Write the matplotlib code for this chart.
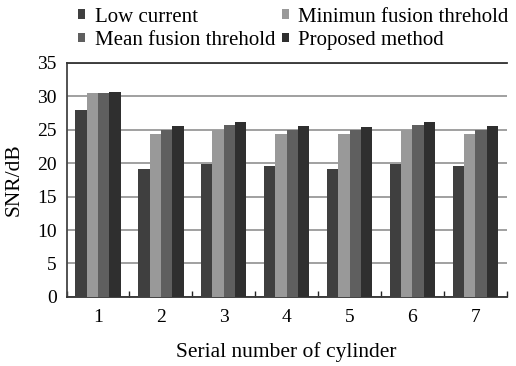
import matplotlib.pyplot as plt
import numpy as np

plt.rcParams['font.family'] = ['Liberation Serif', 'DejaVu Serif']

cylinders = ['1', '2', '3', '4', '5', '6', '7']
low_current = [28.0, 19.1, 19.9, 19.6, 19.1, 19.9, 19.6]
min_fusion = [30.5, 24.4, 25.0, 24.4, 24.4, 25.0, 24.4]
mean_fusion = [30.5, 25.0, 25.7, 25.0, 25.0, 25.7, 25.0]
proposed = [30.65, 25.5, 26.1, 25.6, 25.45, 26.1, 25.6]

names = ['Low current', 'Minimun fusion threhold', 'Mean fusion threhold', 'Proposed method']
colors = ['#3f3f3f', '#999999', '#5f5f5f', '#2f2f2f']
series = [low_current, min_fusion, mean_fusion, proposed]

fig = plt.figure(figsize=(5.16, 3.66), dpi=100)
ax = fig.add_axes([0.129, 0.189, 0.853, 0.639])

x = np.arange(len(cylinders))
w = 0.18
bars = []
for i, (vals, c) in enumerate(zip(series, colors)):
    b = ax.bar(x + (i - 1.5) * w, vals, w, color=c, zorder=3, label=names[i])
    bars.append(b)

ax.set_xlim(-0.5, len(cylinders) - 0.5)
ax.set_ylim(0, 35)
ax.set_yticks(np.arange(0, 36, 5))
ax.set_xticks(x)
ax.set_xticklabels(cylinders)
ax.set_xticks(np.arange(-0.5, len(cylinders)), minor=True)
ax.tick_params(axis='x', which='major', length=0, pad=9, labelsize=14)
ax.tick_params(axis='x', which='minor', direction='in', length=4, width=1, color='#222222')
ax.tick_params(axis='y', length=0, pad=7, labelsize=14)
ax.yaxis.grid(True, color='#999999', linewidth=1.3, zorder=0)

ax.spines['right'].set_visible(False)
ax.spines['top'].set_color('#333333')
ax.spines['left'].set_color('#444444')
ax.spines['bottom'].set_color('#333333')
for s in ['top', 'left', 'bottom']:
    ax.spines[s].set_linewidth(1.3)

ax.set_xlabel('Serial number of cylinder', fontsize=15.5, labelpad=11)
ax.set_ylabel('SNR/dB', fontsize=15.5)
ax.yaxis.set_label_coords(-0.098, 0.5)

order = [0, 2, 1, 3]
fig.legend([bars[i] for i in order], [names[i] for i in order], ncol=2,
           loc='upper left', bbox_to_anchor=(0.115, 1.03), frameon=False,
           fontsize=15, handlelength=0.35, handleheight=0.35, handletextpad=0.45,
           columnspacing=0.3, labelspacing=0.2)

plt.savefig('out.png', dpi=100)
